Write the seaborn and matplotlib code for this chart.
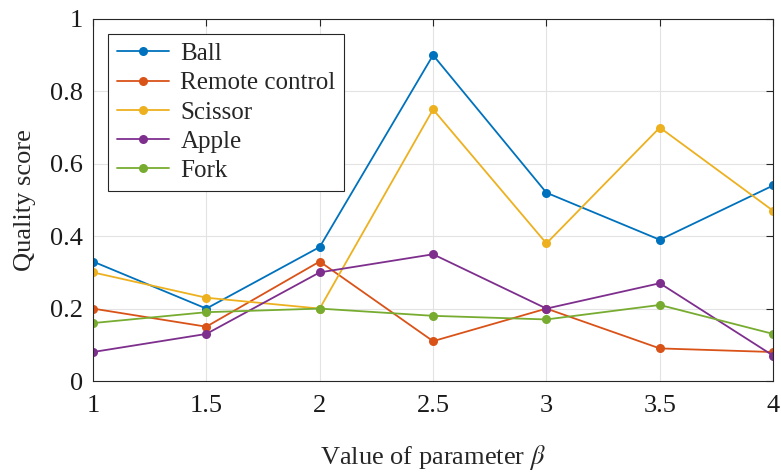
import numpy as np
import pandas as pd
import matplotlib
matplotlib.use("Agg")
import matplotlib.pyplot as plt
import seaborn as sns

beta = [1, 1.5, 2, 2.5, 3, 3.5, 4]
series_names = ["Ball", "Remote control", "Scissor", "Apple", "Fork"]
ball = [0.33, 0.20, 0.37, 0.90, 0.52, 0.39, 0.54]
remote = [0.20, 0.15, 0.33, 0.11, 0.20, 0.09, 0.08]
scissor = [0.30, 0.23, 0.20, 0.75, 0.38, 0.70, 0.47]
apple = [0.08, 0.13, 0.30, 0.35, 0.20, 0.27, 0.07]
fork = [0.16, 0.19, 0.20, 0.18, 0.17, 0.21, 0.13]
colors = ["#0072BD", "#D95319", "#EDB120", "#7E2F8E", "#77AC30"]
x_ticks = [1, 1.5, 2, 2.5, 3, 3.5, 4]
y_ticks = [0, 0.2, 0.4, 0.6, 0.8, 1]
y_ticklabels = ["0", "0.2", "0.4", "0.6", "0.8", "1"]

sns.set_style("white")
plt.rcParams["font.family"] = ["Liberation Serif", "DejaVu Serif"]
plt.rcParams["mathtext.fontset"] = "stix"

df = pd.DataFrame({
    "beta": beta * 5,
    "score": ball + remote + scissor + apple + fork,
    "object": sum([[n] * len(beta) for n in series_names], []),
})

fig = plt.figure(figsize=(7.81, 4.73), dpi=100)
ax = fig.add_axes([0.119, 0.1945, 0.871, 0.7655])
sns.lineplot(data=df, x="beta", y="score", hue="object", hue_order=series_names,
             palette=colors, marker="o", markersize=6.5, markeredgewidth=0,
             linewidth=1.3, ax=ax, legend=True)

ax.set_xlim(1, 4)
ax.set_ylim(0, 1)
ax.set_xticks(x_ticks)
ax.set_xticklabels([f"{t:g}" for t in x_ticks])
ax.set_yticks(y_ticks)
ax.set_yticklabels(y_ticklabels)
ax.grid(True, color="#e3e3e3", linewidth=0.8)
ax.set_axisbelow(True)
for s in ax.spines.values():
    s.set_visible(True)
    s.set_color("#262626")
    s.set_linewidth(0.8)
ax.tick_params(direction="in", length=5, width=0.8, top=True, right=True,
               labelsize=19, colors="#262626")
ax.tick_params(axis="x", pad=10)
ax.tick_params(axis="y", pad=7)
ax.tick_params(labelcolor="#1a1a1a")
ax.set_xlabel(r"Value of parameter $\beta$", fontsize=19, labelpad=19)
ax.set_ylabel("Quality score", fontsize=19, labelpad=10)

leg = ax.legend(loc="upper left", fontsize=18,
                frameon=True, fancybox=False, edgecolor="#262626",
                framealpha=1, handlelength=2.1, borderpad=0.35,
                labelspacing=0.27, handletextpad=0.45, borderaxespad=0.6)
leg.get_frame().set_linewidth(0.8)

fig.savefig("out.png", dpi=100)
